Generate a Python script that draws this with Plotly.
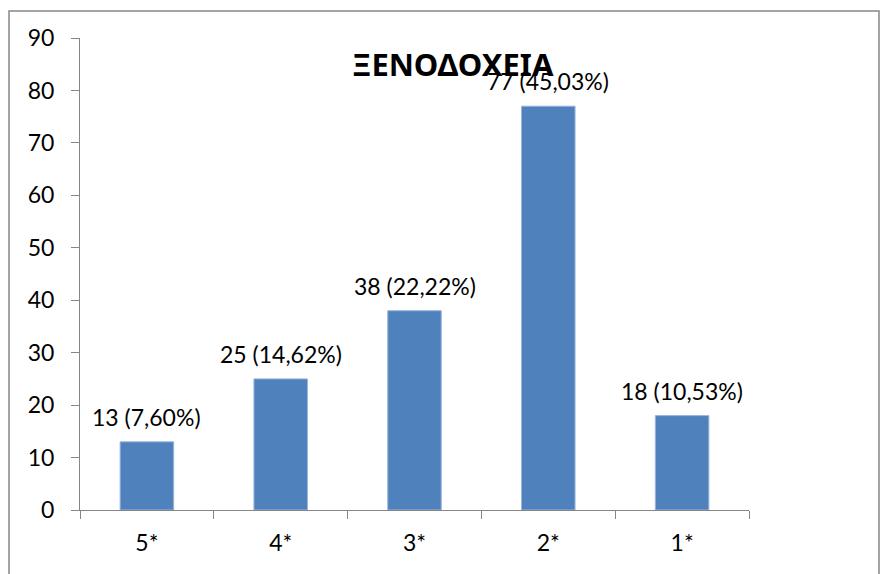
import plotly.graph_objects as go

categories = ["5*", "4*", "3*", "2*", "1*"]
values = [13, 25, 38, 77, 18]
labels = ["13 (7,60%)", "25 (14,62%)", "38 (22,22%)", "77 (45,03%)", "18 (10,53%)"]
title_text = "ΞΕΝΟΔΟΧΕΙΑ"

W, H = 883, 574
L, R, T, B = 80, 134, 38, 64
pw, ph = W - L - R, H - T - B

def px_x(x):
    return (x - L) / pw

def px_y(y):
    return (H - B - y) / ph

FONT = "Lato, 'Noto Sans', sans-serif"
TFONT = "'Noto Sans', sans-serif"

fig = go.Figure(go.Bar(
    x=categories, y=values,
    marker=dict(color="#4F81BD", line=dict(color="#9BB5D9", width=1)),
    width=0.4, cliponaxis=False, hoverinfo="x+y",
))

annotations = [dict(text="<b>" + title_text + "</b>", xref="paper", yref="paper",
                    x=px_x(453), y=px_y(64), xanchor="center", yanchor="middle",
                    showarrow=False,
                    font=dict(size=31, color="black", family=TFONT))]
for c, v, t in zip(categories, values, labels):
    annotations.append(dict(x=c, y=v, xref="x", yref="y", text=t, showarrow=False,
                            xanchor="center", yanchor="middle", yshift=25,
                            font=dict(size=23, color="black", family=FONT)))

fig.update_layout(
    width=W, height=H,
    margin=dict(l=L, r=R, t=T, b=B, autoexpand=False),
    paper_bgcolor="white", plot_bgcolor="white",
    showlegend=False,
    font=dict(family=FONT, size=23, color="black"),
    xaxis=dict(showline=True, linecolor="#868686", linewidth=1,
               ticks="outside", tickson="boundaries", ticklen=8,
               tickcolor="#868686", showgrid=False,
               tickfont=dict(size=23), ticklabelstandoff=12),
    yaxis=dict(range=[0, 90], dtick=10, showline=True, linecolor="#868686",
               linewidth=1, ticks="outside", ticklen=8, tickcolor="#868686",
               showgrid=False, zeroline=False, tickfont=dict(size=23),
               ticklabelstandoff=12),
    annotations=annotations,
    shapes=[dict(type="rect", xref="paper", yref="paper",
                 x0=px_x(9), x1=px_x(879), y0=px_y(590), y1=px_y(11),
                 line=dict(color="#868686", width=1.5), layer="below")],
)

fig.write_html("out.html")
